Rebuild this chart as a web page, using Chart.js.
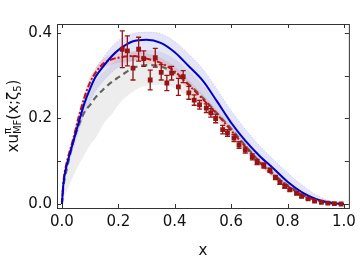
<!DOCTYPE html>
<html>
<head>
<meta charset="utf-8">
<script src="https://cdn.jsdelivr.net/npm/chart.js@4.4.1/dist/chart.umd.min.js"></script>
<style>
  html, body { margin: 0; padding: 0; background: #fff; }
  #wrap { width: 361px; height: 260px; }
</style>
</head>
<body>
<div id="wrap"><canvas id="pdfChart"></canvas></div>
<script>
// x grid shared by all curves and bands
const curveX = [0, 0.005, 0.01, 0.02, 0.04, 0.06, 0.08, 0.1, 0.12, 0.15, 0.18, 0.2, 0.25, 0.3, 0.35, 0.4,
  0.45, 0.5, 0.55, 0.6, 0.65, 0.7, 0.75, 0.8, 0.85, 0.9, 0.95, 1.0];

const blueCurve = [0, 0.045, 0.07, 0.098, 0.145, 0.192, 0.236, 0.27, 0.298, 0.325, 0.348, 0.36, 0.38, 0.384, 0.377, 0.355,
  0.322, 0.288, 0.24, 0.19, 0.148, 0.113, 0.083, 0.052, 0.028, 0.012, 0.003, 0];
const blueUpper = [0, 0.05, 0.075, 0.105, 0.155, 0.205, 0.25, 0.285, 0.315, 0.345, 0.37, 0.382, 0.398, 0.402, 0.398, 0.38,
  0.35, 0.315, 0.268, 0.218, 0.175, 0.137, 0.104, 0.073, 0.045, 0.022, 0.007, 0];
const blueLower = [0, 0.04, 0.065, 0.09, 0.13, 0.172, 0.21, 0.24, 0.265, 0.29, 0.31, 0.32, 0.335, 0.338, 0.332, 0.312,
  0.284, 0.252, 0.212, 0.17, 0.13, 0.096, 0.067, 0.042, 0.022, 0.009, 0.002, 0];

const grayCurve = [0, 0.04, 0.06, 0.09, 0.145, 0.185, 0.215, 0.232, 0.25, 0.27, 0.287, 0.296, 0.317, 0.325, 0.322, 0.306,
  0.28, 0.248, 0.212, 0.176, 0.137, 0.1, 0.07, 0.044, 0.024, 0.01, 0.003, 0];
const grayUpper = [0, 0.055, 0.08, 0.11, 0.16, 0.205, 0.24, 0.268, 0.29, 0.31, 0.33, 0.34, 0.355, 0.36, 0.356, 0.34,
  0.312, 0.278, 0.238, 0.198, 0.155, 0.114, 0.08, 0.052, 0.029, 0.013, 0.004, 0];
const grayLower = [0, 0.015, 0.02, 0.035, 0.065, 0.092, 0.115, 0.138, 0.155, 0.19, 0.212, 0.232, 0.262, 0.277, 0.279, 0.27,
  0.25, 0.222, 0.19, 0.156, 0.12, 0.088, 0.06, 0.036, 0.018, 0.007, 0.002, 0];

const redCurve = [0, 0.05, 0.075, 0.105, 0.152, 0.205, 0.25, 0.285, 0.308, 0.33, 0.339, 0.342, 0.346, 0.34, 0.33, 0.31,
  0.278, 0.245, 0.21, 0.172, 0.134, 0.098, 0.067, 0.042, 0.022, 0.009, 0.002, 0];
const redUpper = [0, 0.055, 0.082, 0.113, 0.162, 0.216, 0.262, 0.297, 0.32, 0.342, 0.351, 0.354, 0.358, 0.352, 0.342, 0.322,
  0.29, 0.256, 0.22, 0.181, 0.142, 0.105, 0.073, 0.047, 0.026, 0.011, 0.003, 0];
const redLower = [0, 0.045, 0.068, 0.097, 0.142, 0.194, 0.238, 0.273, 0.296, 0.318, 0.327, 0.33, 0.334, 0.328, 0.318, 0.298,
  0.266, 0.234, 0.2, 0.163, 0.126, 0.091, 0.061, 0.037, 0.018, 0.007, 0.001, 0];

// data points with symmetric errors
const pointX = [0.214, 0.232, 0.252, 0.272, 0.29, 0.313, 0.331, 0.352, 0.372, 0.389, 0.413, 0.43, 0.45, 0.469,
  0.488, 0.512, 0.528, 0.545, 0.57, 0.587, 0.61, 0.628, 0.65, 0.675, 0.692, 0.716, 0.738, 0.757, 0.773,
  0.79, 0.808, 0.832, 0.85, 0.873, 0.896, 0.92, 0.943, 0.966, 0.99];
const pointY = [0.362, 0.358, 0.318, 0.362, 0.34, 0.29, 0.342, 0.308, 0.283, 0.306, 0.274, 0.298, 0.26, 0.243,
  0.232, 0.224, 0.213, 0.2, 0.174, 0.166, 0.154, 0.138, 0.126, 0.11, 0.098, 0.09, 0.079, 0.062, 0.05,
  0.041, 0.033, 0.025, 0.018, 0.012, 0.007, 0.004, 0.002, 0.001, 0.0];
const pointErr = [0.043, 0.035, 0.028, 0.028, 0.018, 0.023, 0.022, 0.018, 0.018, 0.016, 0.02, 0.014, 0.015, 0.012,
  0.01, 0.01, 0.01, 0.01, 0.01, 0.008, 0.008, 0.008, 0.007, 0.007, 0.006, 0.006, 0.005, 0.005, 0.004,
  0.004, 0.003, 0.003, 0.003, 0.002, 0.002, 0.001, 0.001, 0.001, 0];

const xTicks = [0, 0.2, 0.4, 0.6, 0.8, 1.0];
const xTickLabels = ['0.0', '0.2', '0.4', '0.6', '0.8', '1.0'];
const yTicks = [0, 0.1, 0.2, 0.3, 0.4];
const yTickLabels = ['0.0', '', '0.2', '', '0.4'];

const FONT = 'DejaVu Sans';

function xy(xs, ys) {
  return xs.map((x, i) => ({ x: x, y: ys[i] }));
}

function curve(ys, color, width, dash, order) {
  return {
    data: xy(curveX, ys), showLine: true, borderColor: color, borderWidth: width,
    borderDash: dash, pointRadius: 0, fill: false, order: order, cubicInterpolationMode: 'monotone'
  };
}

function bandEdge(ys, fill, bg, edge, order) {
  return {
    data: xy(curveX, ys), showLine: true, borderColor: edge, borderWidth: edge ? 0.8 : 0,
    borderDash: [1, 2], pointRadius: 0, fill: fill, backgroundColor: bg, order: order,
    cubicInterpolationMode: 'monotone'
  };
}

const POINTS = 9;

// error bars under the square markers
const errorBars = {
  id: 'errorBars',
  beforeDatasetDraw(chart, args) {
    if (args.index !== POINTS) return;
    const { ctx, scales: { x, y } } = chart;
    ctx.save();
    ctx.strokeStyle = 'rgb(150,20,20)';
    ctx.lineWidth = 1.3;
    pointX.forEach((px, i) => {
      if (!pointErr[i]) return;
      const cx = x.getPixelForValue(px);
      const top = y.getPixelForValue(pointY[i] + pointErr[i]);
      const bot = y.getPixelForValue(pointY[i] - pointErr[i]);
      ctx.beginPath();
      ctx.moveTo(cx, top); ctx.lineTo(cx, bot);
      ctx.moveTo(cx - 2.5, top); ctx.lineTo(cx + 2.5, top);
      ctx.moveTo(cx - 2.5, bot); ctx.lineTo(cx + 2.5, bot);
      ctx.stroke();
    });
    ctx.restore();
  }
};

// frame, inward ticks on all sides and the y title
const frame = {
  id: 'frame',
  afterDraw(chart) {
    const { ctx, chartArea: a, scales: { x, y } } = chart;
    ctx.save();
    ctx.strokeStyle = '#333';
    ctx.lineWidth = 1;
    ctx.strokeRect(a.left + 0.5, a.top + 0.5, a.right - a.left, a.bottom - a.top);
    ctx.beginPath();
    xTicks.forEach(v => {
      const px = Math.round(x.getPixelForValue(v)) + 0.5;
      ctx.moveTo(px, a.bottom); ctx.lineTo(px, a.bottom - 4);
      ctx.moveTo(px, a.top); ctx.lineTo(px, a.top + 4);
    });
    yTicks.forEach(v => {
      const py = Math.round(y.getPixelForValue(v)) + 0.5;
      ctx.moveTo(a.left, py); ctx.lineTo(a.left + 4, py);
      ctx.moveTo(a.right, py); ctx.lineTo(a.right - 4, py);
    });
    ctx.stroke();

    // y title: xu^π_MF(x;ζ5)
    const big = '15px "' + FONT + '"', small = '10px "' + FONT + '"';
    const parts = [
      { t: 'xu', f: big, dy: 0 },
      { t: 'π', f: small, dy: -6, stack: true },
      { t: 'MF', f: small, dy: 4 },
      { t: '(x;ζ', f: big, dy: 0 },
      { t: '5', f: small, dy: 4 },
      { t: ')', f: big, dy: 0 }
    ];
    let total = 0;
    const widths = parts.map(p => { ctx.font = p.f; return ctx.measureText(p.t).width; });
    parts.forEach((p, i) => {
      if (p.stack) total += 0; else total += widths[i];
    });
    ctx.translate(14, (a.top + a.bottom) / 2);
    ctx.rotate(-Math.PI / 2);
    ctx.fillStyle = '#111';
    ctx.textBaseline = 'middle';
    let cur = -total / 2;
    parts.forEach((p, i) => {
      ctx.font = p.f;
      ctx.fillText(p.t, cur, p.dy);
      if (!p.stack) cur += widths[i];
    });
    ctx.restore();
  }
};

new Chart(document.getElementById('pdfChart'), {
  type: 'scatter',
  data: {
    datasets: [
      bandEdge(grayUpper, '+1', 'rgba(0,0,0,0.07)', null, 6),
      bandEdge(grayLower, false, 'transparent', null, 6),
      bandEdge(blueUpper, '+1', 'rgba(110,110,230,0.18)', 'rgba(120,120,255,0.5)', 5),
      bandEdge(blueLower, false, 'transparent', 'rgba(120,120,255,0.35)', 5),
      bandEdge(redUpper, '+1', 'rgba(220,80,80,0.16)', null, 4),
      bandEdge(redLower, false, 'transparent', null, 4),
      curve(grayCurve, 'rgb(100,100,100)', 2.2, [6, 4], 3),
      curve(redCurve, 'rgb(190,20,20)', 2, [6, 2, 2, 2], 2),
      curve(blueCurve, 'rgb(0,0,200)', 2, [], 1),
      {
        data: xy(pointX, pointY), showLine: false, pointStyle: 'rect', pointRadius: 3.4,
        pointBackgroundColor: 'rgb(150,20,20)', pointBorderColor: 'rgb(150,20,20)', pointBorderWidth: 0, order: 0
      }
    ]
  },
  options: {
    responsive: true,
    maintainAspectRatio: false,
    animation: false,
    layout: { padding: { top: 24, right: 8, left: 0, bottom: 0 } },
    plugins: { legend: { display: false }, tooltip: { enabled: false } },
    scales: {
      x: {
        type: 'linear', min: -0.0175, max: 1.0175,
        afterBuildTicks: s => { s.ticks = xTicks.map(v => ({ value: v })); },
        afterFit: s => { s.height = 52; },
        grid: { display: false, drawTicks: false },
        border: { display: false },
        ticks: {
          padding: 5, color: '#111', font: { family: FONT, size: 15 },
          callback: (v, i) => xTickLabels[i]
        },
        title: { display: true, text: 'x', color: '#111', font: { family: FONT, size: 15 }, padding: { top: 0, bottom: 0 } }
      },
      y: {
        type: 'linear', min: -0.0094, max: 0.421,
        afterBuildTicks: s => { s.ticks = yTicks.map(v => ({ value: v })); },
        afterFit: s => { s.width = 57; },
        grid: { display: false, drawTicks: false },
        border: { display: false },
        ticks: {
          padding: 5, color: '#111', font: { family: FONT, size: 15 },
          callback: (v, i) => yTickLabels[i]
        }
      }
    }
  },
  plugins: [errorBars, frame]
});
</script>
</body>
</html>
